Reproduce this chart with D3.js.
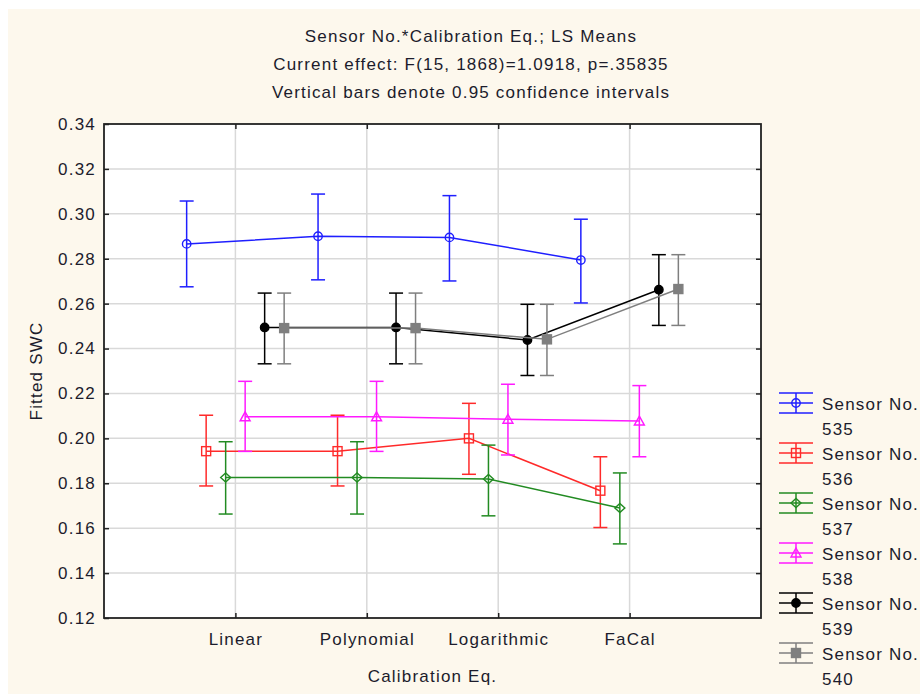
<!DOCTYPE html>
<html>
<head>
<meta charset="utf-8">
<script src="https://cdn.jsdelivr.net/npm/d3@7/dist/d3.min.js"></script>
<style>
  html, body { margin: 0; padding: 0; background: #ffffff; }
  svg { display: block; }
  text { font-family: "Liberation Sans", Arial, sans-serif; fill: #1c1c2c; letter-spacing: 1.2px; }
</style>
</head>
<body>
<svg id="chart" width="920" height="694"></svg>
<script>
// ---------------- DATA ----------------
const categories = ["Linear", "Polynomial", "Logarithmic", "FaCal"];
const sensors = ["535", "536", "537", "538", "539", "540"];

const mean535 = [0.2866, 0.2900, 0.2895, 0.2794];
const lo535   = [0.2675, 0.2706, 0.2701, 0.2603];
const hi535   = [0.3057, 0.3088, 0.3081, 0.2976];

const mean536 = [0.1943, 0.1943, 0.2000, 0.1767];
const lo536   = [0.1788, 0.1788, 0.1840, 0.1603];
const hi536   = [0.2103, 0.2103, 0.2156, 0.1918];

const mean537 = [0.1826, 0.1826, 0.1819, 0.1690];
const lo537   = [0.1663, 0.1663, 0.1655, 0.1530];
const hi537   = [0.1985, 0.1985, 0.1970, 0.1846];

const mean538 = [0.2096, 0.2096, 0.2085, 0.2077];
const lo538   = [0.1942, 0.1942, 0.1926, 0.1918];
const hi538   = [0.2254, 0.2254, 0.2241, 0.2235];

const mean539 = [0.2494, 0.2494, 0.2438, 0.2662];
const lo539   = [0.2332, 0.2332, 0.2280, 0.2503];
const hi539   = [0.2647, 0.2647, 0.2597, 0.2818];

const mean540 = [0.2491, 0.2491, 0.2441, 0.2665];
const lo540   = [0.2332, 0.2332, 0.2280, 0.2503];
const hi540   = [0.2647, 0.2647, 0.2597, 0.2818];

const yTicks = [0.12, 0.14, 0.16, 0.18, 0.20, 0.22, 0.24, 0.26, 0.28, 0.30, 0.32, 0.34];
const titleLines = [
  "Sensor No.*Calibration Eq.; LS Means",
  "Current effect: F(15, 1868)=1.0918, p=.35835",
  "Vertical bars denote 0.95 confidence intervals"
];
const xTitle = "Calibration Eq.";
const yTitle = "Fitted SWC";

// ---------------- STYLE ----------------
const colors = ["#1f1fff", "#ff2a2a", "#228b22", "#ff1aff", "#000000", "#7f7f7f"];
const shapes = ["circleOpen", "squareOpen", "diamondOpen", "triangleOpen", "circleFilled", "squareFilled"];
const FS = 17;

const series = sensors.map((s, i) => ({
  name: s,
  mean: [mean535, mean536, mean537, mean538, mean539, mean540][i],
  lo: [lo535, lo536, lo537, lo538, lo539, lo540][i],
  hi: [hi535, hi536, hi537, hi538, hi539, hi540][i],
  color: colors[i],
  shape: shapes[i]
}));

const svg = d3.select("#chart");
const W = 920, H = 694;
const plot = { left: 104, right: 761, top: 124, bottom: 618 };

// background
svg.append("rect").attr("x", 8).attr("y", 9).attr("width", W - 8).attr("height", H - 9)
  .attr("fill", "#fdf8ed");

// scales
const x = d3.scalePoint().domain(categories).range([plot.left, plot.right]).padding(1);
const y = d3.scaleLinear().domain([0.12, 0.34]).range([plot.bottom, plot.top]);
const offsetStep = 19.5;
const xs = (i, c) => x(c) + (i - 2.5) * offsetStep;

// plot area
svg.append("rect").attr("x", plot.left).attr("y", plot.top)
  .attr("width", plot.right - plot.left).attr("height", plot.bottom - plot.top)
  .attr("fill", "#ffffff");

// grid
const grid = svg.append("g").attr("stroke", "#d9d9d9").attr("stroke-width", 1.5);
yTicks.slice(1, -1).forEach(t => {
  grid.append("line").attr("x1", plot.left).attr("x2", plot.right)
    .attr("y1", y(t)).attr("y2", y(t));
});
categories.forEach(c => {
  grid.append("line").attr("x1", x(c)).attr("x2", x(c))
    .attr("y1", plot.top).attr("y2", plot.bottom);
});

// axes (inward ticks on all four sides)
const fmt = d3.format(".2f");
const axL = svg.append("g").attr("transform", `translate(${plot.left},0)`)
  .call(d3.axisLeft(y).tickValues(yTicks).tickFormat(fmt).tickSize(-5).tickPadding(8));
const axR = svg.append("g").attr("transform", `translate(${plot.right},0)`)
  .call(d3.axisRight(y).tickValues(yTicks.slice(1, -1)).tickFormat("").tickSize(-5));
const axB = svg.append("g").attr("transform", `translate(0,${plot.bottom})`)
  .call(d3.axisBottom(x).tickSize(-5).tickPadding(15));
const axT = svg.append("g").attr("transform", `translate(0,${plot.top})`)
  .call(d3.axisTop(x).tickFormat("").tickSize(-5));
[axL, axR, axB, axT].forEach(a => {
  a.select(".domain").remove();
  a.selectAll(".tick line").attr("stroke", "#222").attr("stroke-width", 1.5);
  a.selectAll(".tick text").attr("font-size", FS)
    .attr("font-family", "'Liberation Sans', Arial, sans-serif").attr("fill", "#1c1c2c");
});

// frame
svg.append("rect").attr("x", plot.left).attr("y", plot.top)
  .attr("width", plot.right - plot.left).attr("height", plot.bottom - plot.top)
  .attr("fill", "none").attr("stroke", "#222").attr("stroke-width", 1.8);

// marker drawing
function drawMarker(g, shape, cx, cy, color) {
  const sw = 1.4;
  if (shape === "circleOpen" || shape === "circleFilled") {
    g.append("circle").attr("cx", cx).attr("cy", cy).attr("r", 4.2)
      .attr("fill", shape === "circleFilled" ? color : "none")
      .attr("stroke", color).attr("stroke-width", sw);
  } else if (shape === "squareOpen" || shape === "squareFilled") {
    g.append("rect").attr("x", cx - 4.5).attr("y", cy - 4.5).attr("width", 9).attr("height", 9)
      .attr("fill", shape === "squareFilled" ? color : "none")
      .attr("stroke", color).attr("stroke-width", sw);
  } else if (shape === "diamondOpen") {
    g.append("path").attr("d", `M${cx - 5},${cy}L${cx},${cy - 4.5}L${cx + 5},${cy}L${cx},${cy + 4.5}Z`)
      .attr("fill", "none").attr("stroke", color).attr("stroke-width", sw);
  } else if (shape === "triangleOpen") {
    g.append("path").attr("d", `M${cx},${cy - 5}L${cx + 5},${cy + 4}L${cx - 5},${cy + 4}Z`)
      .attr("fill", "none").attr("stroke", color).attr("stroke-width", sw);
  }
}

// series
const capHalf = 7;
series.forEach((s, i) => {
  const g = svg.append("g");
  const line = d3.line().x((d, k) => xs(i, categories[k])).y(d => y(d));
  g.append("path").attr("d", line(s.mean)).attr("fill", "none")
    .attr("stroke", s.color).attr("stroke-width", 1.5);
  categories.forEach((c, k) => {
    const cx = xs(i, c);
    g.append("line").attr("x1", cx).attr("x2", cx).attr("y1", y(s.lo[k])).attr("y2", y(s.hi[k]))
      .attr("stroke", s.color).attr("stroke-width", 1.5);
    [s.lo[k], s.hi[k]].forEach(v => {
      g.append("line").attr("x1", cx - capHalf).attr("x2", cx + capHalf)
        .attr("y1", y(v)).attr("y2", y(v)).attr("stroke", s.color).attr("stroke-width", 1.5);
    });
    drawMarker(g, s.shape, cx, y(s.mean[k]), s.color);
  });
});

// titles
titleLines.forEach((t, k) => {
  svg.append("text").attr("x", 471).attr("y", 42 + k * 28)
    .attr("text-anchor", "middle").attr("font-size", FS).text(t);
});
svg.append("text").attr("x", (plot.left + plot.right) / 2).attr("y", 682)
  .attr("text-anchor", "middle").attr("font-size", FS).text(xTitle);
svg.append("text").attr("transform", `translate(42,${(plot.top + plot.bottom) / 2}) rotate(-90)`)
  .attr("text-anchor", "middle").attr("font-size", FS).text(yTitle);

// legend
series.forEach((s, i) => {
  const ly = 403 + i * 50;
  const g = svg.append("g");
  [-10, 0, 10].forEach(dy => {
    g.append("line").attr("x1", 779).attr("x2", 813).attr("y1", ly + dy).attr("y2", ly + dy)
      .attr("stroke", s.color).attr("stroke-width", 1.5);
  });
  g.append("line").attr("x1", 796).attr("x2", 796).attr("y1", ly - 10).attr("y2", ly + 10)
    .attr("stroke", s.color).attr("stroke-width", 1.5);
  drawMarker(g, s.shape, 796, ly, s.color);
  g.append("text").attr("x", 822).attr("y", ly + 7).attr("font-size", FS).text("Sensor No.");
  g.append("text").attr("x", 822).attr("y", ly + 32).attr("font-size", FS).text(s.name);
});
</script>
</body>
</html>
